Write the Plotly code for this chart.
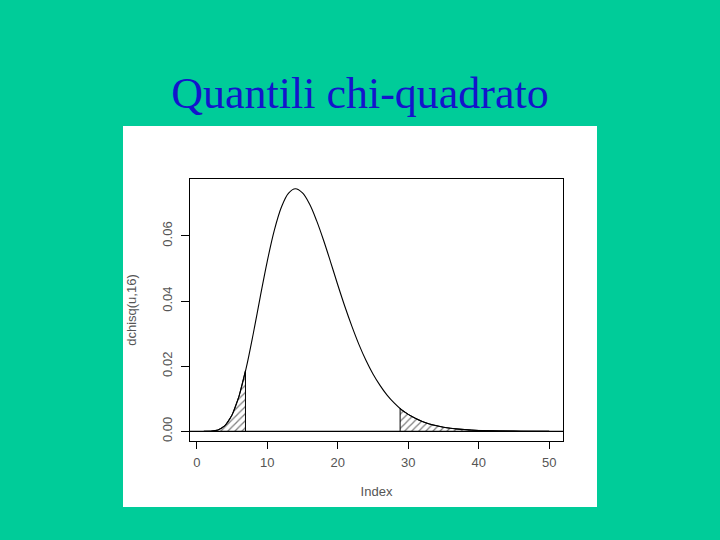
import plotly.graph_objects as go

# Index (u = 1..50) and density dchisq(u, 16)
index = list(range(1, 51))
dens = [0.0000005, 0.0000365, 0.000378, 0.00172, 0.00497, 0.0108, 0.0193, 0.0298,
        0.0412, 0.0522, 0.0617, 0.0688, 0.0731, 0.0745, 0.0732, 0.0698, 0.0647,
        0.0586, 0.0519, 0.0450, 0.0384, 0.0323, 0.0267, 0.0218, 0.0176, 0.0141,
        0.0111, 0.0087, 0.0067, 0.0052, 0.0040, 0.0030, 0.00226, 0.00169,
        0.00125, 0.00093, 0.00068, 0.00050, 0.00036, 0.00026, 0.00019, 0.000135,
        0.000097, 0.000069, 0.000049, 0.000035, 0.000024, 0.000017, 0.000012,
        0.0000084]

# quantiles 2.5% and 97.5% and density at them
q_lo, d_lo = 6.91, 0.0187
q_hi, d_hi = 28.85, 0.0070

xticks = [0, 10, 20, 30, 40, 50]
yticks = [0.00, 0.02, 0.04, 0.06]
ytick_text = ["0.00", "0.02", "0.04", "0.06"]

# tail polygons
lo_x = [index[0]] + [u for u in index if u < q_lo] + [q_lo, q_lo]
lo_y = [0] + [d for u, d in zip(index, dens) if u < q_lo] + [d_lo, 0]
hi_x = [q_hi, q_hi] + [u for u in index if u > q_hi] + [index[-1]]
hi_y = [0, d_hi] + [d for u, d in zip(index, dens) if u > q_hi] + [0]

fig = go.Figure()
pat = dict(shape="/", fgcolor="black", bgcolor="white", size=5, solidity=0.25)
fig.add_trace(go.Scatter(x=lo_x, y=lo_y, mode="lines", fill="toself",
                         fillcolor="white", fillpattern=pat,
                         line=dict(color="black", width=1), hoverinfo="skip"))
fig.add_trace(go.Scatter(x=hi_x, y=hi_y, mode="lines", fill="toself",
                         fillcolor="white", fillpattern=pat,
                         line=dict(color="black", width=1), hoverinfo="skip"))
fig.add_trace(go.Scatter(x=index, y=dens, mode="lines",
                         line=dict(color="black", width=1.1, shape="spline")))

fig.add_shape(type="rect", xref="paper", yref="paper",
              x0=(123 - 190) / 373, x1=(597 - 190) / 373,
              y0=(441 - 507) / 262, y1=(441 - 126) / 262,
              fillcolor="white", line_width=0, layer="below")
fig.add_shape(type="line", xref="paper", yref="y", x0=0, x1=1, y0=0, y1=0,
              line=dict(color="black", width=1.3))

axfont = dict(family="Liberation Sans, Arial, sans-serif", size=13, color="#555555")
fig.update_layout(
    width=720, height=540,
    paper_bgcolor="#00CC99", plot_bgcolor="white",
    margin=dict(l=190, r=157, t=179, b=99),
    showlegend=False,
    title=dict(text="Quantili chi-quadrato", x=0.5, xanchor="center",
               y=1 - 93 / 540, yanchor="middle",
               font=dict(family="Liberation Serif, Times New Roman, serif",
                         size=44, color="#1414CC")),
    xaxis=dict(range=[-0.96, 51.96], tickvals=xticks, ticks="outside", ticklen=7,
               tickcolor="black", showline=True, linecolor="black", linewidth=1.3,
               mirror=True, showgrid=False, zeroline=False, tickfont=axfont,
               ticklabelstandoff=2,
               title=dict(text="Index", font=axfont, standoff=18)),
    yaxis=dict(range=[-0.00298, 0.07748], tickvals=yticks, ticktext=ytick_text,
               ticks="outside", ticklen=8, tickangle=-90,
               tickcolor="black", showline=True, linecolor="black", linewidth=1.3,
               mirror=True, showgrid=False, zeroline=False, tickfont=axfont,
               ticklabelstandoff=4,
               title=dict(text="dchisq(u,16)", font=axfont, standoff=20)),
)
fig.write_html("out.html", config={"displayModeBar": False},
               post_script="document.body.style.margin='0';"
                           "document.body.style.background='#00CC99';")
